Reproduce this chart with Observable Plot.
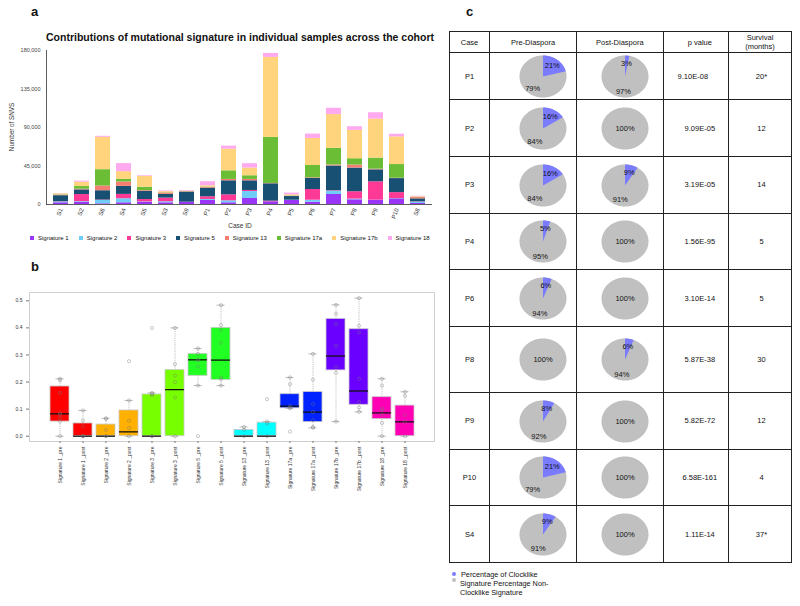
<!DOCTYPE html>
<html><head><meta charset="utf-8">
<script src="https://cdn.jsdelivr.net/npm/d3@7"></script>
<script src="https://cdn.jsdelivr.net/npm/@observablehq/plot@0.6"></script>
<style>
body{margin:0;background:#fff;font-family:"Liberation Sans",Arial,sans-serif;color:#111;}
#root{position:relative;width:800px;height:606px;overflow:hidden;background:#fff;}
.abs{position:absolute;line-height:1;white-space:nowrap;}
.plabel{position:absolute;font-weight:bold;font-size:13px;line-height:1;}
.tbl{position:absolute;left:449px;top:31px;border-collapse:collapse;table-layout:fixed;font-size:7.5px;width:342px;}
.tbl td,.tbl th{border:1px solid #222;padding:0;text-align:center;vertical-align:middle;font-weight:normal;line-height:1.2;}
.leg{position:absolute;display:flex;align-items:center;font-size:6px;line-height:1;}
.leg .it{display:flex;align-items:center;margin-right:10px;}
.leg .sw{width:4px;height:4px;margin-right:4px;}
</style></head><body><div id="root"></div>
<script>
// ---------- Panel a data ----------
const cases = ["S1","S2","S6","S4","S5","S3","S9","P1","P2","P3","P4","P5","P6","P7","P8","P9","P10","S8"];
const signatures = ["Signature 1","Signature 2","Signature 3","Signature 5","Signature 13","Signature 17a","Signature 17b","Signature 18"];
const sig1   = [2000,2700,800,2000,2700,2000,2700,4700,2000,7000,3100,4700,2700,11700,5500,5100,6600,1200];
const sig2   = [1000,700,3900,4700,400,1200,0,1200,2300,8200,0,300,2300,3900,800,0,300,1600];
const sig3   = [300,8200,500,5100,2700,4300,0,3100,7000,1200,800,0,12500,500,8600,21400,7000,300];
const sig5   = [7000,5500,10900,9400,9700,4300,11700,10100,16400,11300,20300,4300,12900,28900,27700,14000,16400,3500];
const sig13  = [500,800,5500,5100,800,1600,500,800,1600,1600,400,400,800,1200,3500,800,400,1500];
const sig17a = [500,3100,19100,3100,3900,400,300,500,10100,4300,53800,400,14400,19500,7400,12900,16000,300];
const sig17b = [1200,5100,37800,9000,12500,1200,300,1500,25300,9000,93500,1200,31600,39400,33100,45600,32300,700];
const sig18  = [300,1200,1200,9400,800,800,800,4700,3500,5100,4700,2000,5100,7400,4300,7400,3100,500];
const yTicksA = [0,45000,90000,135000,180000];
const sigColors = ["#9a36f5","#6fcdf7","#ff3a96","#185073","#f57e73","#6cbd36","#ffd47c","#ffa9ee"];

// ---------- Panel b data ----------
const boxGroups = ["Signature 1 _pre","Signature 1 _post","Signature 2 _pre","Signature 2 _post","Signature 3 _pre","Signature 3 _post","Signature 5 _pre","Signature 5 _post","Signature 13 _pre","Signature 13 _post","Signature 17a _pre","Signature 17a _post","Signature 17b _pre","Signature 17b _post","Signature 18 _pre","Signature 18 _post"];
const boxColors = ["#ff0000","#ff0000","#ffb000","#ffb000","#77ff00","#77ff00","#22ff22","#22ff22","#00ffff","#00ffff","#0022ff","#0022ff","#6a00ff","#6a00ff","#ff00b4","#ff00b4"];
const boxQ1  = [0.054,0,0,0,0,0,0.223,0.208,0,0,0.103,0.052,0.243,0.116,0.063,0];
const boxMed = [0.0825,0,0,0.016,0,0.172,0.282,0.281,0,0,0.111,0.089,0.296,0.167,0.086,0.053];
const boxQ3  = [0.1835,0.047,0.043,0.095,0.154,0.244,0.304,0.4,0.023,0.05,0.155,0.163,0.433,0.395,0.144,0.113];
const boxLo  = [0,0,0,0,0,0,0.187,0.187,0,0,0.103,0.031,0.054,0.09,0,0];
const boxHi  = [0.212,0.095,0.066,0.132,0.16,0.4,0.324,0.484,0.034,0.054,0.217,0.304,0.485,0.51,0.212,0.164];
const boxPoints = [
  [0,0.054,0.066,0.08,0.085,0.16,0.206,0.212],
  [0,0,0,0.036,0.058,0.095],
  [0,0,0.023,0.064,0.066],
  [0,0.03,0.057,0.132,0.277],
  [0,0,0.152,0.155,0.16,0.4],
  [0,0.143,0.2,0.224,0.266,0.4],
  [0,0.187,0.257,0.28,0.283,0.304,0.324],
  [0.187,0.21,0.217,0.345,0.393,0.41,0.484],
  [0,0.023,0.034],
  [0,0.047,0.054,0.137],
  [0.017,0.103,0.106,0.111,0.192,0.217],
  [0.031,0.034,0.059,0.089,0.118,0.209,0.304],
  [0.054,0.234,0.256,0.334,0.415,0.452,0.485],
  [0.09,0.106,0.126,0.212,0.383,0.408,0.51],
  [0,0.049,0.079,0.096,0.101,0.187,0.212],
  [0,0.053,0.079,0.149,0.164]
];
const yTicksB = [0,0.1,0.2,0.3,0.4,0.5];

// ---------- Panel c data ----------
const tableCases = ["P1","P2","P3","P4","P6","P8","P9","P10","S4"];
const prePct  = [21,16,16,5,6,0,8,21,9];
const postPct = [3,0,9,0,0,6,0,0,0];
const pValues = ["9.10E-08","9.09E-05","3.19E-05","1.56E-95","3.10E-14","5.87E-38","5.82E-72","6.58E-161","1.11E-14"];
const survival = ["20*","12","14","5","5","30","12","4","37*"];
const tableHeaders = ["Case","Pre-Diaspora","Post-Diaspora","p value","Survival<br>(months)"];
const clockColor = "#7b7bff", nonClockColor = "#c0c0c0";

// layout
const colWidths = [40,87,86.7,65.3,63];
const rowHeights = [47.3,56.7,56.7,56.6,57,65.4,57,56.6,56.7];

const root = document.getElementById("root");
const font = "Liberation Sans, Arial, sans-serif";
function place(el, left, top){ el.style.position="absolute"; el.style.left=left+"px"; el.style.top=top+"px"; root.appendChild(el); return el; }
function label(txt, left, top, cls, extra){ const d=document.createElement("div"); d.className=cls||"abs"; d.innerHTML=txt; if(extra) Object.assign(d.style, extra); return place(d,left,top); }

// ---------- Panel a ----------
label("a",31,5,"plabel");
label("c",466,5,"plabel");
label("b",31,260,"plabel");
label("Contributions of mutational signature in individual samples across the cohort",46,31.5,"abs",{fontWeight:"bold",fontSize:"10.5px"});

const tidyA = cases.flatMap((c,i)=>[sig1,sig2,sig3,sig5,sig13,sig17a,sig17b,sig18].map((s,j)=>({case:c,sig:signatures[j],value:s[i]})));
const plotA = Plot.plot({
  width:440,height:245,marginTop:50,marginBottom:41,marginLeft:46,marginRight:8,
  style:{fontFamily:font,fontSize:"6px",background:"transparent",overflow:"visible"},
  x:{domain:cases,paddingInner:0.3,paddingOuter:0.16,label:null,axis:null},
  y:{domain:[0,180000],label:null,axis:null},
  color:{domain:signatures,range:sigColors},
  marks:[
    Plot.barY(tidyA,{x:"case",y:"value",fill:"sig"}),
    Plot.ruleY([0],{stroke:"#333",strokeWidth:0.8}),
    Plot.frame({anchor:"left",stroke:"#333",strokeWidth:0.8}),
    Plot.axisX({tickSize:0,tickRotate:-70,tickPadding:4,label:null,fill:"#333"}),
    Plot.axisY(yTicksA,{tickFormat:d3.format(","),tickSize:0,tickPadding:6,label:null,fill:"#444",fontSize:5.5})
  ]
});
place(plotA,0,0);
label("Number of SNVS",12,127,"abs",{fontSize:"6.3px",transform:"translate(-50%,-50%) rotate(-90deg)",color:"#333"});
label("Case ID",240,226,"abs",{fontSize:"6.5px",transform:"translate(-50%,-50%)",color:"#333"});
const legA = label("",30,234.5,"leg");
signatures.forEach((s,i)=>{ const it=document.createElement("div"); it.className="it"; it.innerHTML=`<div class="sw" style="background:${sigColors[i]}"></div><span>${s}</span>`; legA.appendChild(it); });

// ---------- Panel b ----------
const boxData = boxGroups.map((g,i)=>({g,color:boxColors[i],q1:boxQ1[i],med:boxMed[i],q3:boxQ3[i],lo:boxLo[i],hi:boxHi[i]}));
const ptsB = boxGroups.flatMap((g,i)=>boxPoints[i].map(v=>({g,v})));
const plotB = Plot.plot({
  width:440,height:215,marginTop:12,marginBottom:54,marginLeft:29,marginRight:6,
  style:{fontFamily:font,fontSize:"5px",background:"transparent",overflow:"visible"},
  x:{domain:boxGroups,paddingInner:0.19,paddingOuter:0.725,label:null,axis:null},
  y:{domain:[-0.0196,0.5307],label:null,axis:null},
  color:{type:"identity"},
  marks:[
    Plot.frame({stroke:"#cfcfcf",strokeWidth:1}),
    Plot.ruleX(boxData,{x:"g",y1:"q3",y2:"hi",stroke:"#999",strokeWidth:0.6,strokeDasharray:"1.2,1"}),
    Plot.ruleX(boxData,{x:"g",y1:"lo",y2:"q1",stroke:"#999",strokeWidth:0.6,strokeDasharray:"1.2,1"}),
    Plot.tickY(boxData,{x:"g",y:"hi",stroke:"#999",strokeWidth:0.7,insetLeft:5.5,insetRight:5.5}),
    Plot.tickY(boxData,{x:"g",y:"lo",stroke:"#999",strokeWidth:0.7,insetLeft:5.5,insetRight:5.5}),
    Plot.barY(boxData,{x:"g",y1:"q1",y2:"q3",fill:"color",stroke:"#c8c8c8",strokeWidth:0.8}),
    Plot.tickY(boxData,{x:"g",y:"med",stroke:"#111",strokeWidth:1.3}),
    Plot.dot(ptsB,{x:"g",y:"v",r:1.6,stroke:"#777",strokeWidth:0.5,strokeOpacity:0.8,fill:"none"}),
    Plot.axisY(yTicksB,{tickFormat:".1f",tickSize:3,tickPadding:4,label:null,stroke:"#777",fill:"#333"}),
    Plot.axisX({tickSize:2,tickPadding:3,tickRotate:-90,label:null,stroke:"#777",fill:"#333"})
  ]
});
place(plotB,0,280);

// ---------- Panel c ----------
function piePlot(pct){
  const full = d3.range(0,181).map(i=>({x:Math.sin(2*Math.PI*i/180),y:Math.cos(2*Math.PI*i/180)}));
  const f = pct/100;
  const n = Math.max(2,Math.round(f*180));
  const wedge = pct>0 ? [{x:0,y:0},...d3.range(0,n+1).map(i=>{const t=2*Math.PI*f*i/n;return {x:Math.sin(t),y:Math.cos(t)};}),{x:0,y:0}] : [];
  const labs = pct===0 ? [{x:0,y:0,t:"100%"}] :
    [{x:0.64*Math.sin(Math.PI*f),y:0.64*Math.cos(Math.PI*f),t:pct+"%"},
     {x:0.72*Math.sin(Math.PI*(1+f)),y:0.72*Math.cos(Math.PI*(1+f)),t:(100-pct)+"%"}];
  return Plot.plot({
    width:47,height:42,margin:0,
    style:{fontFamily:font,background:"transparent",overflow:"visible",display:"block"},
    x:{domain:[-1,1],axis:null},y:{domain:[-1,1],axis:null},
    marks:[
      Plot.line(full,{x:"x",y:"y",fill:nonClockColor,stroke:"none"}),
      Plot.line(wedge,{x:"x",y:"y",fill:clockColor,stroke:"none"}),
      Plot.text(labs,{x:"x",y:"y",text:"t",fontSize:7.5,fill:"#111"})
    ]
  });
}
const tbl = document.createElement("table"); tbl.className="tbl";
const cg = document.createElement("colgroup");
colWidths.forEach(w=>{const c=document.createElement("col"); c.style.width=w+"px"; cg.appendChild(c);});
tbl.appendChild(cg);
const hr = document.createElement("tr"); hr.style.height="21px";
tableHeaders.forEach((h,i)=>{const th=document.createElement("th"); th.innerHTML=h; if(i===3) th.style.paddingLeft="8px"; hr.appendChild(th);});
tbl.appendChild(hr);
tableCases.forEach((c,i)=>{
  const tr=document.createElement("tr"); tr.style.height=rowHeights[i]+"px";
  const td0=document.createElement("td"); td0.textContent=c; tr.appendChild(td0);
  const td1=document.createElement("td"); const p1=piePlot(prePct[i]); p1.style.marginLeft="29px"; td1.appendChild(p1); tr.appendChild(td1);
  const td2=document.createElement("td"); const p2=piePlot(postPct[i]); p2.style.marginLeft="24px"; td2.appendChild(p2); tr.appendChild(td2);
  const td3=document.createElement("td"); td3.textContent=pValues[i];
  if(i===0){td3.style.paddingRight="6px";} else {td3.style.paddingLeft="8px";}
  tr.appendChild(td3);
  const td4=document.createElement("td"); td4.textContent=survival[i]; td4.style.paddingLeft="3px"; tr.appendChild(td4);
  tbl.appendChild(tr);
});
root.appendChild(tbl);

// legend c
const dot1=document.createElement("div"); Object.assign(dot1.style,{width:"4px",height:"4px",borderRadius:"50%",background:clockColor}); place(dot1,452,571.5);
const dot2=document.createElement("div"); Object.assign(dot2.style,{width:"4px",height:"4px",borderRadius:"50%",background:nonClockColor}); place(dot2,452,577.5);
label("Percentage of Clocklike",461,571,"abs",{fontSize:"7.3px"});
label("Signature Percentage Non-",460,580,"abs",{fontSize:"7.3px"});
label("Clocklike Signature",460,589,"abs",{fontSize:"7.3px"});
</script></body></html>
